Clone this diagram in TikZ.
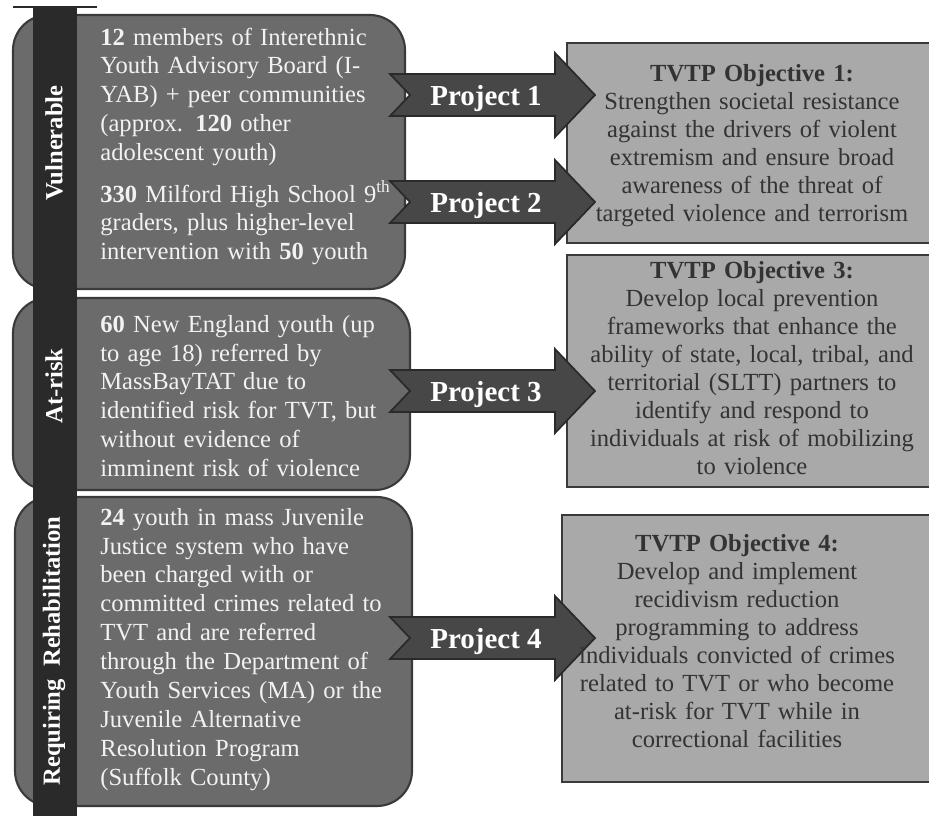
\documentclass[tikz,border=0pt]{standalone}
\usepackage{fontspec}
\setmainfont{Liberation Serif}

\definecolor{groupfill}{HTML}{6B6B6B}
\definecolor{goalfill}{HTML}{A9A9A9}
\definecolor{barfill}{HTML}{2A2A2A}
\definecolor{arrowfill}{HTML}{474747}
\definecolor{edgegray}{HTML}{3A3A3A}
\definecolor{goaltext}{HTML}{333333}

\tikzset{
	groupbox/.style={draw=edgegray,line width=1.2pt,fill=groupfill,rounded corners=20pt},
	goalbox/.style={draw=edgegray,line width=1.5pt,fill=goalfill},
	grouptext/.style={text=white!95!black,text width=7cm,align=left,inner sep=0pt,anchor=base west,
		font=\fontsize{14}{16.5}\selectfont},
	goaltext/.style={text=goaltext,text width=7cm,align=center,inner sep=0pt,anchor=base,
		font=\fontsize{14}{16}\selectfont},
	barlabel/.style={text=white,rotate=90,inner sep=0pt,font=\fontsize{14}{16.5}\selectfont\bfseries},
	projarrow/.style={draw=barfill,line width=1pt,fill=arrowfill,line join=miter},
	projlabel/.style={text=white,inner sep=0pt,anchor=base,font=\fontsize{16.5}{19}\selectfont\bfseries}
}

\begin{document}
\begin{tikzpicture}[x=0.02cm,y=-0.02cm]
	\useasboundingbox (0,0) rectangle (929,816);
	\clip (0,0) rectangle (929,816);

	% target groups
	\draw[groupbox] (13,15) rectangle (405,289);
	\draw[groupbox] (13,298) rectangle (410,490);
	\draw[groupbox] (15,497) rectangle (412,806);

	% dark bar on the left
	\fill[barfill] (33,7) rectangle (77,816);
	\draw[barfill,line width=1.2pt] (13,7) -- (97,7);
	\node[barlabel] (vuln) at (54,143) {Vulnerable};
	\node[barlabel] (risk) at (54,386) {At-risk};
	\node[barlabel] (rehab) at (54,651) {Requiring\enspace Rehabilitation};

	% TVTP objectives
	\draw[goalbox] (567,43) rectangle (945,243);
	\draw[goalbox] (567,255) rectangle (945,487);
	\draw[goalbox] (562,515) rectangle (945,782);

	% project arrows
	\foreach \c/\n in {95/1,202/2,391/3,638/4}{
		\draw[projarrow] (390,\c) ++(0,-21) -- ++(165,0) -- ++(0,-21) -- ++(40,42)
			-- ++(-40,42) -- ++(0,-21) -- ++(-165,0) -- ++(20,-21) -- cycle;
		\node[projlabel] (proj\n) at (486,\c+10) {Project \n};
	}

	% texts of the groups
	\node[grouptext] (g1) at (100,45) {\textbf{12} members of Interethnic\\Youth Advisory Board (I-\\YAB) + peer communities\\(approx. \textbf{120} other\\adolescent youth)};
	\node[grouptext] (g2) at (100,202) {\textbf{330} Milford High School 9\textsuperscript{th}\\graders, plus higher-level\\intervention with \textbf{50} youth};
	\node[grouptext] (g3) at (100,332) {\textbf{60} New England youth (up\\to age 18) referred by\\MassBayTAT due to\\identified risk for TVT, but\\without evidence of\\imminent risk of violence};
	\node[grouptext] (g4) at (100,525) {\textbf{24} youth in mass Juvenile\\Justice system who have\\been charged with or\\committed crimes related to\\TVT and are referred\\through the Department of\\Youth Services (MA) or the\\Juvenile Alternative\\Resolution Program\\(Suffolk County)};

	% texts of the objectives
	\node[goaltext] (o1) at (752,81) {\textbf{TVTP Objective 1:}\\Strengthen societal resistance\\against the drivers of violent\\extremism and ensure broad\\awareness of the threat of\\targeted violence and terrorism};
	\node[goaltext] (o3) at (752,278) {\textbf{TVTP Objective 3:}\\Develop local prevention\\frameworks that enhance the\\ability of state, local, tribal, and\\territorial (SLTT) partners to\\identify and respond to\\individuals at risk of mobilizing\\to violence};
	\node[goaltext] (o4) at (737,551) {\textbf{TVTP Objective 4:}\\Develop and implement\\recidivism reduction\\programming to address\\individuals convicted of crimes\\related to TVT or who become\\at-risk for TVT while in\\correctional facilities};
\end{tikzpicture}
\end{document}
